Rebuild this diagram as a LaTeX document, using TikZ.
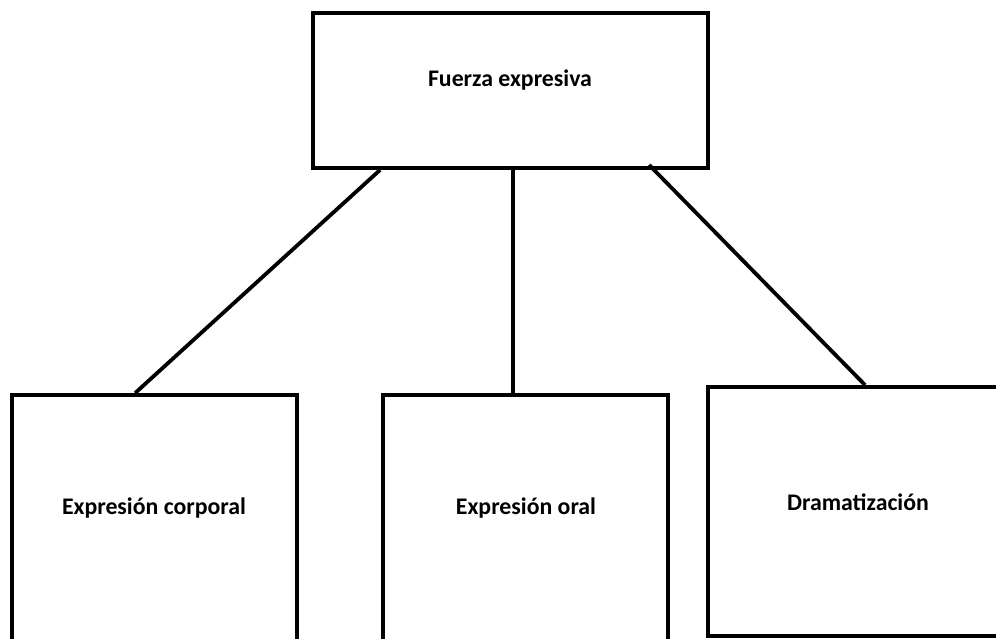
\documentclass[tikz,border=0pt]{standalone}
\usepackage{fontspec}
\setmainfont{Carlito}
\usetikzlibrary{calc}

\begin{document}
\begin{tikzpicture}[x=1pt,y=1pt,yscale=-1,xscale=1,
  caja/.style={draw, rectangle, line width=3.8pt, inner sep=0pt},
  rotulo/.style={inner sep=0.75pt, font=\fontsize{23.8}{28}\selectfont\bfseries},
  linea/.style={line width=3.8pt}]
\useasboundingbox (0,0) rectangle (996,639);
\clip (0,0) rectangle (996,639);

%Shape: Rectangle [fuerza]
\node [caja, minimum width=395pt, minimum height=155pt] (fuerza) at (510.5,90.5) {};
%Shape: Rectangle [corporal]
\node [caja, minimum width=285pt, minimum height=265pt] (corporal) at (154.5,527.5) {};
%Shape: Rectangle [oral]
\node [caja, minimum width=285pt, minimum height=265pt] (oral) at (525.5,527.5) {};
%Shape: Rectangle [drama]
\node [caja, minimum width=302pt, minimum height=249pt] (drama) at (859,511.5) {};

%Straight Lines
\coordinate (f1) at ($(fuerza.south west)+(69,0)$);
\coordinate (f2) at ($(fuerza.south west)+(202,0)$);
\coordinate (f3) at ($(fuerza.south west)+(338,-5)$);
\coordinate (c1) at ($(corporal.north west)+(125,0)$);
\coordinate (o1) at ($(oral.north west)+(132,2)$);
\coordinate (d1) at ($(drama.north west)+(159,0)$);
\draw [linea] (f1) -- (c1) ;
\draw [linea] (f2) -- (o1) ;
\draw [linea] (f3) -- (d1) ;

% Text Node
\node [rotulo] (tfuerza) at (510,80) {Fuerza expresiva};
% Text Node
\node [rotulo] (tcorporal) at (154,508) {Expresión corporal};
% Text Node
\node [rotulo] (toral) at (526,508) {Expresión oral};
% Text Node
\node [rotulo] (tdrama) at (858,502) {Dramatización};

\end{tikzpicture}
\end{document}
